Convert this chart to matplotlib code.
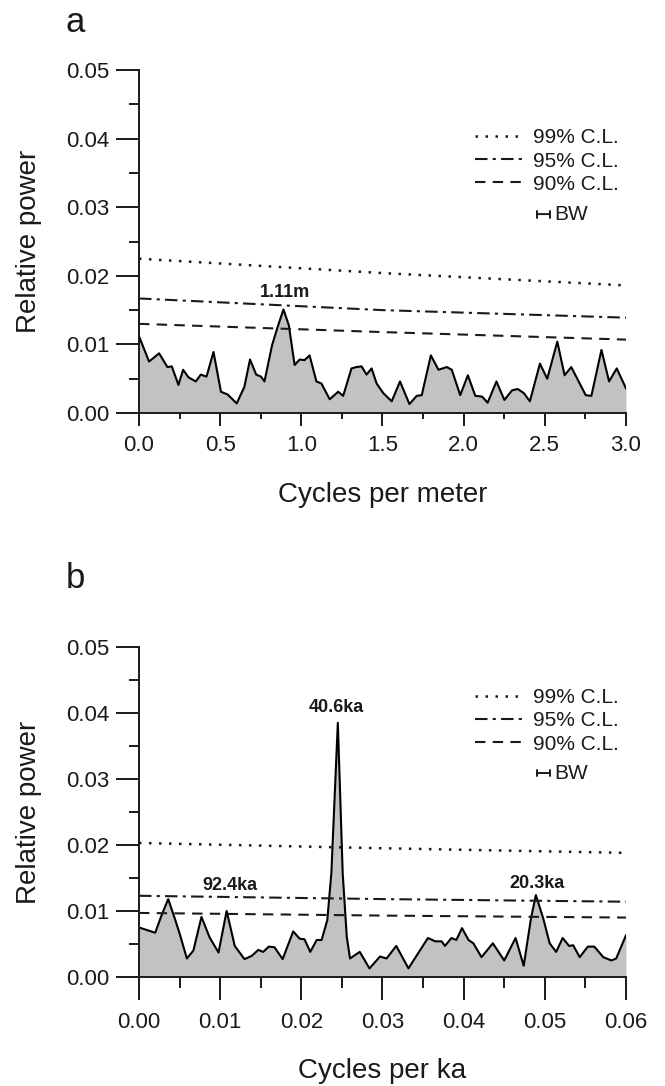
import matplotlib
matplotlib.use("Agg")
import matplotlib.pyplot as plt
import numpy as np
from matplotlib.ticker import MultipleLocator, FormatStrFormatter

plt.rcParams['font.family'] = ['Liberation Sans', 'DejaVu Sans']

# panel a: spectrum vs cycles per meter
freq_a = [0.0, 0.062, 0.124, 0.175, 0.202, 0.243, 0.272, 0.305, 0.35, 0.381, 0.416,
          0.459, 0.505, 0.546, 0.602, 0.649, 0.684, 0.722, 0.752, 0.773, 0.82, 0.855,
          0.89, 0.923, 0.959, 0.99, 1.02, 1.051, 1.093, 1.124, 1.175, 1.227, 1.258,
          1.309, 1.34, 1.371, 1.402, 1.433, 1.464, 1.505, 1.557, 1.608, 1.666, 1.711,
          1.742, 1.798, 1.845, 1.896, 1.927, 1.979, 2.026, 2.072, 2.113, 2.148, 2.202,
          2.251, 2.298, 2.333, 2.371, 2.408, 2.47, 2.515, 2.577, 2.622, 2.663, 2.7,
          2.752, 2.787, 2.849, 2.896, 2.943, 3.0]
power_a = [0.0112, 0.0075, 0.0087, 0.0067, 0.0068, 0.0041, 0.0063, 0.0052, 0.0046, 0.0056, 0.0053,
           0.0089, 0.0031, 0.0027, 0.0014, 0.0038, 0.0078, 0.0056, 0.0053, 0.0046, 0.0099, 0.0126,
           0.0151, 0.0128, 0.0070, 0.0078, 0.0077, 0.0084, 0.0046, 0.0043, 0.0020, 0.0031, 0.0025,
           0.0065, 0.0067, 0.0068, 0.0056, 0.0065, 0.0043, 0.0029, 0.0017, 0.0046, 0.0013, 0.0025,
           0.0026, 0.0084, 0.0063, 0.0067, 0.0063, 0.0026, 0.0055, 0.0025, 0.0024, 0.0015, 0.0046,
           0.0019, 0.0033, 0.0035, 0.0029, 0.0017, 0.0072, 0.0050, 0.0104, 0.0055, 0.0067, 0.0050,
           0.0026, 0.0025, 0.0092, 0.0046, 0.0065, 0.0036]
cl_freq_a = [0.0, 1.5, 3.0]
cl99_a = [0.0225, 0.0204, 0.0186]
cl95_a = [0.0167, 0.0150, 0.0139]
cl90_a = [0.0130, 0.0118, 0.0107]

# panel b: spectrum vs cycles per ka
freq_b = [0.0, 0.002, 0.0028, 0.0036, 0.0044, 0.005, 0.0059, 0.0067, 0.0077, 0.0087,
          0.0098, 0.0108, 0.0118, 0.013, 0.0139, 0.0147, 0.0153, 0.016, 0.0167, 0.0177,
          0.019, 0.0198, 0.0204, 0.0211, 0.0219, 0.0225, 0.0232, 0.0237, 0.0245, 0.0251,
          0.0256, 0.026, 0.0272, 0.0284, 0.0297, 0.0305, 0.0317, 0.0332, 0.0344, 0.0356,
          0.0365, 0.0373, 0.0377, 0.0385, 0.0391, 0.0398, 0.0406, 0.0412, 0.0422, 0.0436,
          0.045, 0.0464, 0.0474, 0.0483, 0.0489, 0.0498, 0.0506, 0.0514, 0.0522, 0.053,
          0.0535, 0.0543, 0.0553, 0.0561, 0.0572, 0.0582, 0.0588, 0.06]
power_b = [0.0075, 0.0067, 0.0094, 0.0118, 0.0089, 0.0066, 0.0028, 0.0040, 0.0091, 0.0060,
           0.0037, 0.0100, 0.0047, 0.0027, 0.0032, 0.0041, 0.0038, 0.0046, 0.0045, 0.0027,
           0.0069, 0.0058, 0.0057, 0.0038, 0.0056, 0.0056, 0.0086, 0.0157, 0.0385, 0.0157,
           0.0061, 0.0028, 0.0038, 0.0013, 0.0031, 0.0028, 0.0047, 0.0013, 0.0036, 0.0059,
           0.0054, 0.0054, 0.0047, 0.0059, 0.0056, 0.0074, 0.0056, 0.0051, 0.0030, 0.0051,
           0.0025, 0.0059, 0.0017, 0.0089, 0.0124, 0.0089, 0.0051, 0.0038, 0.0059, 0.0047,
           0.0048, 0.0030, 0.0046, 0.0046, 0.0030, 0.0025, 0.0028, 0.0063]
cl_freq_b = [0.0, 0.03, 0.06]
cl99_b = [0.0203, 0.0195, 0.0188]
cl95_b = [0.0123, 0.0118, 0.0114]
cl90_b = [0.0097, 0.0093, 0.0090]

cl_labels = ['99% C.L.', '95% C.L.', '90% C.L.']

peaks_a = [('1.11m', 0.897, 0.0176)]
peaks_b = [('40.6ka', 0.0243, 0.0408), ('92.4ka', 0.0112, 0.0139), ('20.3ka', 0.049, 0.0142)]

ink = '#1a1a1a'
fig = plt.figure(figsize=(6.65, 10.86), dpi=100)
ax_a = fig.add_axes([0.209, 0.6197, 0.7323, 0.3158])
ax_b = fig.add_axes([0.209, 0.1004, 0.7323, 0.3039])

styles = [(0, (1, 3)), (0, (6, 2.5, 1.5, 2.5)), (0, (5, 3.5))]
widths = [1.8, 1.5, 1.5]


def draw_panel(ax, f, p, clf, cls, peaks, xmaj, xmin, xfmt, xlabel, xtl, xpad, legtop, bwy):
    ax.fill_between(f, 0, p, color='#c2c2c2', lw=0)
    ax.plot(f, p, color='black', lw=1.5, solid_joinstyle='round')
    lines = []
    for cl, ls, w, lab in zip(cls, styles, widths, cl_labels):
        ln, = ax.plot(clf, cl, color=ink, lw=w, linestyle=ls, label=lab)
        lines.append(ln)
    for txt, x, y in peaks:
        ax.text(x, y, txt, ha='center', va='center', fontsize=13, fontweight='bold', color=ink)
    ax.set_xlim(f[0], f[-1])
    ax.set_ylim(0, 0.05)
    for s in ['top', 'right']:
        ax.spines[s].set_visible(False)
    for s in ['left', 'bottom']:
        ax.spines[s].set_linewidth(1.4)
        ax.spines[s].set_color(ink)
    ax.xaxis.set_major_locator(MultipleLocator(xmaj))
    ax.xaxis.set_minor_locator(MultipleLocator(xmin))
    ax.xaxis.set_major_formatter(FormatStrFormatter(xfmt))
    ax.yaxis.set_major_locator(MultipleLocator(0.01))
    ax.yaxis.set_minor_locator(MultipleLocator(0.005))
    ax.yaxis.set_major_formatter(FormatStrFormatter('%.2f'))
    ax.tick_params(axis='y', which='major', direction='out', length=16.5, width=1.4,
                   labelsize=16, colors=ink, pad=5)
    ax.tick_params(axis='y', which='minor', direction='out', length=7.5, width=1.4, colors=ink)
    ax.tick_params(axis='x', which='major', direction='out', length=xtl, width=1.4,
                   labelsize=16, colors=ink, pad=xpad)
    ax.tick_params(axis='x', which='minor', direction='out', length=xtl / 2, width=1.4, colors=ink)
    ax.set_ylabel('Relative power', fontsize=20, color=ink)
    ax.yaxis.set_label_coords(-0.2, 0.5)
    ax.set_xlabel(xlabel, fontsize=20, color=ink)
    leg = ax.legend(handles=lines, loc='upper left', bbox_to_anchor=(0.69, legtop),
                    frameon=False, fontsize=15, handlelength=2.25, handletextpad=0.55,
                    labelspacing=0.2, borderpad=0, borderaxespad=0)
    for t in leg.get_texts():
        t.set_color(ink)
    ax.annotate('', xy=(0.844, bwy), xytext=(0.817, bwy), xycoords='axes fraction',
                arrowprops=dict(arrowstyle='|-|,widthA=0.25,widthB=0.25', color=ink, lw=1.4,
                                shrinkA=0, shrinkB=0))
    ax.text(0.852, bwy, 'BW', transform=ax.transAxes, ha='left', va='center',
            fontsize=15, color=ink)


draw_panel(ax_a, freq_a, power_a, cl_freq_a, [cl99_a, cl95_a, cl90_a], peaks_a,
           0.5, 0.25, '%.1f', 'Cycles per meter', 9, 7, 0.83, 0.58)
draw_panel(ax_b, freq_b, power_b, cl_freq_b, [cl99_b, cl95_b, cl90_b], peaks_b,
           0.01, 0.005, '%.2f', 'Cycles per ka', 16.5, 9, 0.875, 0.618)
ax_a.xaxis.set_label_coords(0.5, -0.2)
ax_b.xaxis.set_label_coords(0.5, -0.245)

fig.text(75 / 665, 1 - 22 / 1086, 'a', fontsize=25, ha='center', va='center', color=ink)
fig.text(75 / 665, 1 - 578 / 1086, 'b', fontsize=25, ha='center', va='center', color=ink)

fig.savefig('out.png', dpi=100)
